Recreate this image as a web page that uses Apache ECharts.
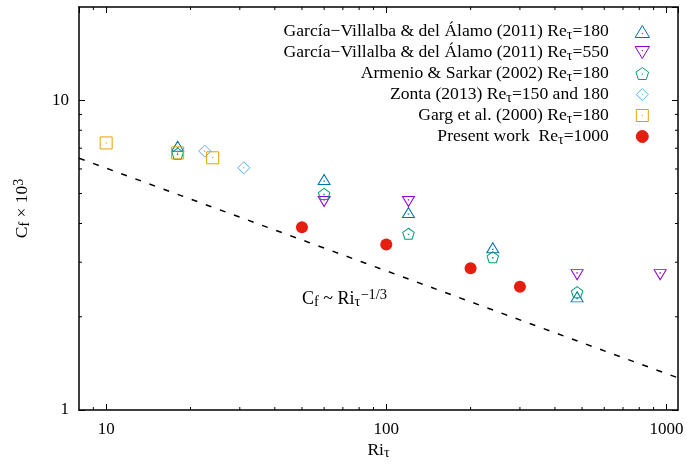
<!DOCTYPE html>
<html>
<head>
<meta charset="utf-8">
<script src="https://cdn.jsdelivr.net/npm/echarts@6/dist/echarts.min.js"></script>
<style>
  html, body { margin: 0; padding: 0; background: #fff; }
  #chart { width: 687px; height: 468px; }
</style>
</head>
<body>
<div id="chart"></div>
<script>
const FONT = 'Liberation Serif';

// Skin-friction coefficient (Cf x 10^3) against friction Richardson number Ri_tau
const gv180Ri = [18, 60, 120, 240, 480];
const gv180Cf = [7.02, 5.48, 4.29, 3.30, 2.29];
const gv550Ri = [60, 120, 480, 950];
const gv550Cf = [4.77, 4.77, 2.77, 2.77];
const armenioRi = [18, 60, 120, 240, 480];
const armenioCf = [6.69, 4.96, 3.69, 3.10, 2.39];
const zontaRi = [22.5, 31];
const zontaCf = [6.85, 6.05];
const gargRi = [10, 18, 24];
const gargCf = [7.28, 6.76, 6.52];
const presentRi = [50, 100, 200, 300];
const presentCf = [3.89, 3.42, 2.87, 2.50];
// Cf ~ Ri^(-1/3) guide line, end points
const scalingRi = [8, 1100];
const scalingCf = [6.5, 1.27];

const seriesNames = [
  'García−Villalba & del Álamo (2011) Re_τ=180',
  'García−Villalba & del Álamo (2011) Re_τ=550',
  'Armenio & Sarkar (2002) Re_τ=180',
  'Zonta (2013) Re_τ=150 and 180',
  'Garg et al. (2000) Re_τ=180',
  'Present work  Re_τ=1000'
];

// axis extents and minor tick positions (log scales)
const xRange = [8, 1100];
const yRange = [1, 20];
const xMinorTicks = [9, 20, 30, 40, 50, 60, 70, 80, 90, 200, 300, 400, 500, 600, 700, 800, 900];
const yMinorTicks = [2, 3, 4, 5, 6, 7, 8, 9];

const pairs = (xs, ys) => xs.map((x, i) => [x, ys[i]]);

// open point shapes with a centre dot
const SYM = {
  triUp:   'path://M0,10 L6,0 L12,10 Z M5.8,6.47 L6.2,6.47 L6.2,6.87 L5.8,6.87 Z',
  triDown: 'path://M0,0 L12,0 L6,10 Z M5.8,3.13 L6.2,3.13 L6.2,3.53 L5.8,3.53 Z',
  penta:   'path://M5.75,0 L11.5,4.18 L9.31,10.94 L2.19,10.94 L0,4.18 Z M5.55,5.85 L5.95,5.85 L5.95,6.25 L5.55,6.25 Z',
  diamond: 'path://M6,0 L12,6 L6,12 L0,6 Z M5.8,5.8 L6.2,5.8 L6.2,6.2 L5.8,6.2 Z',
  square:  'path://M0,0 L11,0 L11,11 L0,11 Z M5.3,5.3 L5.7,5.3 L5.7,5.7 L5.3,5.7 Z'
};

const COL = {
  blue: '#0072b2', violet: '#9400d3', green: '#009e73',
  sky: '#56b4e9', orange: '#e69f00', red: '#e51e10'
};

function openSeries(name, xs, ys, symbol, size, color, offset) {
  return {
    type: 'scatter', name, data: pairs(xs, ys),
    symbol, symbolSize: size, symbolOffset: offset || [0, 0],
    itemStyle: { color: 'none', borderColor: color, borderWidth: 1, opacity: 1 },
    emphasis: { disabled: true }, silent: true, z: 3
  };
}

const SUB = 14;
const subRich = {
  s: { fontFamily: FONT, fontSize: SUB, lineHeight: 13, verticalAlign: 'bottom', color: '#000' },
  p: { fontFamily: FONT, fontSize: SUB, lineHeight: 13, verticalAlign: 'top', color: '#000' }
};

function axisPair(dim, range, main) {
  return {
    type: 'log', logBase: 10, min: range[0], max: range[1],
    position: main ? (dim === 'x' ? 'bottom' : 'left') : (dim === 'x' ? 'top' : 'right'),
    splitLine: { show: false },
    axisLine: { show: true, onZero: false, lineStyle: { color: '#000', width: 1.5 } },
    axisTick: { show: true, inside: true, length: 6, lineStyle: { color: '#000', width: 1 } },
    minorTick: { show: false },
    axisLabel: {
      show: main, showMinLabel: dim === 'y', showMaxLabel: false,
      fontFamily: FONT, fontSize: 17, color: '#000',
      margin: dim === 'x' ? 11 : 10,
      formatter: v => String(v)
    }
  };
}

const xMain = Object.assign(axisPair('x', xRange, true), {
  name: 'Ri{s|τ}', nameLocation: 'middle', nameGap: 30, nameMoveOverlap: false,
  nameTextStyle: { fontFamily: FONT, fontSize: 17.5, color: '#000', lineHeight: 20, rich: subRich }
});
const yMain = Object.assign(axisPair('y', yRange, true), {
  name: 'C{s|f} × 10{p|3}', nameLocation: 'middle', nameGap: 47, nameMoveOverlap: false,
  nameTextStyle: { fontFamily: FONT, fontSize: 17.5, color: '#000', lineHeight: 20, rich: subRich }
});

const minorTickData = xMinorTicks.map(v => [v, 1, 0]).concat(yMinorTicks.map(v => [8, v, 1]));

const chart = echarts.init(document.getElementById('chart'), null, { renderer: 'canvas' });
chart.setOption({
  animation: false,
  backgroundColor: '#fff',
  textStyle: { fontFamily: FONT, color: '#000' },
  grid: { left: 79, top: 7, width: 599, height: 403, outerBoundsMode: 'none', containLabel: false },
  xAxis: [xMain, axisPair('x', xRange, false)],
  yAxis: [yMain, axisPair('y', yRange, false)],
  legend: {
    data: seriesNames,
    orient: 'vertical', align: 'right',
    right: 35, top: 21, padding: 0,
    itemWidth: 57, itemHeight: 12, itemGap: 0,
    selectedMode: false,
    itemStyle: { borderWidth: 1 },
    textStyle: {
      fontFamily: FONT, fontSize: 17.6, color: '#000', lineHeight: 21,
      rich: subRich
    },
    formatter: name => name.replace('Re_τ', 'Re{s|τ}')
  },
  graphic: [{
    type: 'text', left: 302, top: 288, silent: true,
    style: {
      text: 'C{s|f} ~ Ri{s|τ}{p|−1/3}',
      fontFamily: FONT, fontSize: 18, lineHeight: 22, fill: '#000',
      rich: {
        s: { fontFamily: FONT, fontSize: 14.5, lineHeight: 13, verticalAlign: 'bottom', fill: '#000' },
        p: { fontFamily: FONT, fontSize: 14.5, lineHeight: 13, verticalAlign: 'top', fill: '#000' }
      }
    }
  }],
  series: [
    {
      type: 'line', name: 'scaling', data: pairs(scalingRi, scalingCf),
      symbol: 'none', silent: true, z: 2,
      lineStyle: { color: '#000', width: 1.5, type: [6, 9] }
    },
    openSeries(seriesNames[0], gv180Ri, gv180Cf, SYM.triUp, [12, 10], COL.blue, [0, -1.67]),
    openSeries(seriesNames[1], gv550Ri, gv550Cf, SYM.triDown, [12, 10], COL.violet, [0, 1.67]),
    openSeries(seriesNames[2], armenioRi, armenioCf, SYM.penta, [11.5, 11], COL.green, [0, -0.6]),
    openSeries(seriesNames[3], zontaRi, zontaCf, SYM.diamond, [12, 12], COL.sky),
    openSeries(seriesNames[4], gargRi, gargCf, SYM.square, [12, 12], COL.orange),
    {
      type: 'scatter', name: seriesNames[5], data: pairs(presentRi, presentCf),
      symbol: 'circle', symbolSize: 12,
      itemStyle: { color: COL.red, borderColor: COL.red, borderWidth: 0, opacity: 1 },
      emphasis: { disabled: true }, silent: true, z: 3
    },
    {
      type: 'custom', name: 'minor ticks', silent: true, clip: false, z: 5,
      encode: { x: 0, y: 1 },
      data: minorTickData,
      renderItem(params, api) {
        const cs = params.coordSys;
        const p = api.coord([api.value(0), api.value(1)]);
        const st = { stroke: '#000', lineWidth: 1 };
        const len = 3;
        if (api.value(2) === 0) {
          return { type: 'group', children: [
            { type: 'line', shape: { x1: p[0], y1: cs.y + cs.height, x2: p[0], y2: cs.y + cs.height - len }, style: st },
            { type: 'line', shape: { x1: p[0], y1: cs.y, x2: p[0], y2: cs.y + len }, style: st }
          ] };
        }
        return { type: 'group', children: [
          { type: 'line', shape: { x1: cs.x, y1: p[1], x2: cs.x + len, y2: p[1] }, style: st },
          { type: 'line', shape: { x1: cs.x + cs.width, y1: p[1], x2: cs.x + cs.width - len, y2: p[1] }, style: st }
        ] };
      }
    }
  ]
});
</script>
</body>
</html>
